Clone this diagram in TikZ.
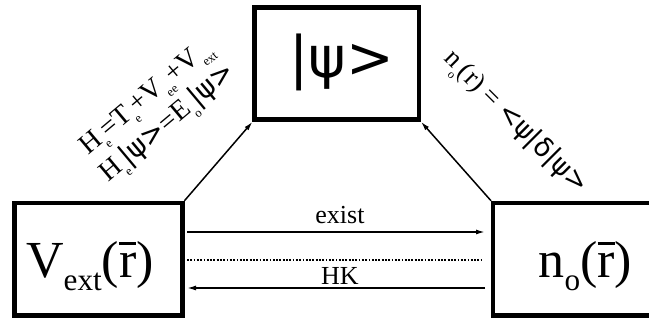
\documentclass[tikz,border=0pt]{standalone}
\usepackage{fontspec}
\setmainfont{Liberation Serif}
\newfontfamily\symfont{DejaVu Sans}
\usetikzlibrary{arrows.meta}
% lowered, reduced subscripts in text mode
\newcommand\lsub[1]{\raisebox{-0.25em}{\scalebox{0.6}{#1}}}
\newcommand\ssub[1]{\raisebox{-0.3em}{\scalebox{0.45}{#1}}}
% r with an overbar
\newcommand\rbar{\leavevmode\rlap{\rule[0.63em]{0.33em}{0.055em}}r}
\newcommand\ketpsi{{\symfont|ψ>}}
\newcommand\brapsi{{\symfont<ψ|}}
\begin{document}
\begin{tikzpicture}[x=1pt,y=-1pt,
  box/.style={draw, line width=4.5pt, inner sep=0pt, outer sep=0pt},
  arr/.style={line width=1.5pt, -{Latex[length=9pt,width=5pt]}},
  dotline/.style={line width=2pt, dash pattern=on 1.8pt off 1.5pt},
  biglabel/.style={anchor=base, inner sep=0pt, font=\fontsize{52}{60}\selectfont},
  midlabel/.style={anchor=base, inner sep=0pt, font=\fontsize{26}{30}\selectfont},
  eqlabel/.style={inner sep=0pt, align=center}]
\useasboundingbox (0,0) rectangle (649,320);

% the three boxes
\node[box, minimum width=164.5pt, minimum height=112pt] (psi) at (336.75,63.5) {};
\node[box, minimum width=168pt, minimum height=112.5pt] (vext) at (98.5,259.25) {};
\node[box, minimum width=160pt, minimum height=112.5pt] (nr) at (573,259.25) {};

% box contents
\node[inner sep=0pt, font=\symfont\fontsize{57}{60}\selectfont] (psitext) at (341.5,62) {|ψ>};
\node[biglabel] (vexttext) at (90,278) {V\lsub{ext}(\rbar)};
\node[biglabel] (nrtext) at (585.5,278) {n\lsub{o}(\rbar)};

% horizontal connectors
\draw[arr, shorten <=4.5pt, shorten >=8pt]
  ([yshift=27.25pt]vext.east) -- ([yshift=27.25pt]nr.west);
\draw[dotline, shorten <=4.5pt, shorten >=12pt]
  ([yshift=-0.75pt]vext.east) -- ([yshift=-0.75pt]nr.west);
\draw[arr, shorten <=8pt, shorten >=4.5pt]
  ([yshift=-28.75pt]nr.west) -- ([yshift=-28.75pt]vext.east);
\node[midlabel] (exist) at (340,224) {exist};
\node[midlabel] (hk) at (340,285) {HK};

% diagonal connectors
\draw[arr, shorten <=3pt, shorten >=3pt] (vext.north east) -- (psi.south west);
\draw[arr, shorten <=3pt, shorten >=3pt] (nr.north west) -- (psi.south east);

% equations along the diagonals
\node[eqlabel, rotate=40, font=\fontsize{28}{34}\selectfont] (hamilton) at (158.5,112)
  {H\ssub{e}=T\ssub{e}+V\ssub{ee}+V\ssub{ext}\\
   H\ssub{e}\ketpsi=E\ssub{o}\ketpsi};
\node[eqlabel, rotate=-45, font=\fontsize{27}{30}\selectfont] (density) at (515,123)
  {n\ssub{o}(r) = \brapsi{\symfont δ}\ketpsi};
\end{tikzpicture}
\end{document}
